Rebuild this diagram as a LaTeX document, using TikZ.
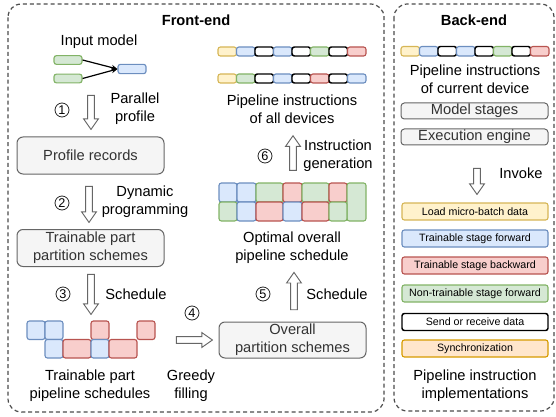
\documentclass[tikz,border=0pt]{standalone}
\usepackage{fontspec}
\setmainfont{Liberation Sans}
\usetikzlibrary{shapes.arrows,arrows.meta}

\definecolor{ldfill}{HTML}{FFF2CC}
\definecolor{lddraw}{HTML}{D6B656}
\definecolor{fwfill}{HTML}{DAE8FC}
\definecolor{fwdraw}{HTML}{6C8EBF}
\definecolor{bwfill}{HTML}{F8CECC}
\definecolor{bwdraw}{HTML}{B85450}
\definecolor{ntfill}{HTML}{D5E8D4}
\definecolor{ntdraw}{HTML}{82B366}
\definecolor{syfill}{HTML}{FFE6CC}
\definecolor{sydraw}{HTML}{D79B00}
\definecolor{boxfill}{HTML}{F5F5F5}
\definecolor{boxdraw}{HTML}{666666}
\definecolor{boxtext}{HTML}{333333}

\begin{document}
\begin{tikzpicture}[x=0.75pt,y=-0.75pt,
	font=\fontsize{11}{13.5}\selectfont,
	ld/.style={fill=ldfill,draw=lddraw,line width=0.85pt,rounded corners=1.8pt},
	fw/.style={fill=fwfill,draw=fwdraw,line width=0.85pt,rounded corners=1.8pt},
	bw/.style={fill=bwfill,draw=bwdraw,line width=0.85pt,rounded corners=1.8pt},
	nt/.style={fill=ntfill,draw=ntdraw,line width=0.85pt,rounded corners=1.8pt},
	sr/.style={fill=white,draw=black,line width=1.1pt,rounded corners=1.8pt},
	syncbox/.style={fill=syfill,draw=sydraw,line width=0.85pt,rounded corners=1.8pt},
	graybox/.style={fill=boxfill,draw=boxdraw,line width=0.75pt,rounded corners=4.5pt,text=boxtext,
		align=center,inner sep=0pt,minimum width=110.25pt,minimum height=27.75pt},
	thinbox/.style={graybox,rounded corners=2.5pt,minimum height=12pt},
	legend/.style={rounded corners=2pt,inner sep=0pt,minimum width=109.5pt,minimum height=12.75pt,
		font=\fontsize{8}{9}\selectfont},
	hollow/.style={single arrow,draw=boxdraw,fill=white,line width=0.7pt,inner sep=2.2pt,
		single arrow head extend=3pt,single arrow tip angle=70},
	stepnum/.style={circle,draw=black!85,line width=0.6pt,inner sep=0pt,minimum size=10.5pt,
		font=\fontsize{9.5}{9.5}\selectfont},
	frame/.style={draw=black!70,line width=0.9pt,dash pattern=on 3pt off 2.2pt,rounded corners=10pt}]

	\useasboundingbox (0,0) rectangle (556,417);

	% the two parts
	\draw[frame] (8,4) rectangle (384,412);
	\draw[frame] (394,4) rectangle (554,411);
	\node[font=\fontsize{11}{13.5}\selectfont\bfseries] (front) at (196,20) {Front-end};
	\node[font=\fontsize{11}{13.5}\selectfont\bfseries] (back) at (474,20) {Back-end};

	% input model
	\node[] (inmodel) at (99,42) {Input model};
	\node[nt,minimum width=21pt,minimum height=6.5pt,inner sep=0pt] (g1) at (68,60) {};
	\node[nt,minimum width=21pt,minimum height=6.5pt,inner sep=0pt] (g2) at (68,78.5) {};
	\node[fw,minimum width=21pt,minimum height=7pt,inner sep=0pt] (b1) at (132,69) {};
	\draw[-{Stealth[length=4.5pt,width=4pt]},line width=0.9pt] (g1.east) -- (b1.west);
	\draw[-{Stealth[length=4.5pt,width=4pt]},line width=0.9pt] (g2.east) -- (b1.west);

	% left column
	\node[hollow,rotate=-90,minimum height=25.5pt] (arr1) at (91,110) {};
	\node[stepnum] (c1) at (62,110) {1};
	\node[align=center] (lab1) at (135,109) {Parallel\\profile};
	\node[graybox] (profile) at (90.5,155.5) {Profile records};

	\node[hollow,rotate=-90,minimum height=27pt] (arr2) at (89,202) {};
	\node[stepnum] (c2) at (62,203) {2};
	\node[align=center] (lab2) at (145,202) {Dynamic\\programming};
	\node[graybox] (tpart) at (90.5,248) {Trainable part\\partition schemes};

	\node[hollow,rotate=-90,minimum height=30pt] (arr3) at (91,292) {};
	\node[stepnum] (c3) at (63,294) {3};
	\node[] (lab3) at (136,294) {Schedule};

	\filldraw[fw] (27,321) rectangle (45,339.5);
	\filldraw[fw] (45,321) rectangle (63,339.5);
	\filldraw[bw] (91,321) rectangle (109,339.5);
	\filldraw[bw] (137,321) rectangle (155,339.5);
	\filldraw[fw] (45,339.5) rectangle (63,358);
	\filldraw[bw] (63,339.5) rectangle (91,358);
	\filldraw[fw] (91,339.5) rectangle (109,358);
	\filldraw[bw] (109,339.5) rectangle (137,358);
	\node[align=center] (trtext) at (90,385.5) {Trainable part\\pipeline schedules};

	% greedy filling
	\node[hollow,minimum height=27pt] (arr4) at (192,340) {};
	\node[stepnum] (c4) at (192,313) {4};
	\node[align=center] (greedy) at (191,386) {Greedy\\filling};

	% right column
	\node[graybox,minimum height=27pt] (overall) at (292.5,340) {Overall\\partition schemes};
	\node[hollow,rotate=90,minimum height=28pt] (arr5) at (294,293.5) {};
	\node[stepnum] (c5) at (263,294) {5};
	\node[] (lab5) at (337,294) {Schedule};

	\filldraw[fw] (219,183) rectangle (237,202);
	\filldraw[fw] (237,183) rectangle (256,202);
	\filldraw[nt] (256,183) rectangle (283,202);
	\filldraw[bw] (283,183) rectangle (302,202);
	\filldraw[nt] (302,183) rectangle (329,202);
	\filldraw[bw] (329,183) rectangle (347,202);
	\filldraw[nt] (347,183) rectangle (366,221);
	\filldraw[nt] (219,202) rectangle (237,221);
	\filldraw[fw] (237,202) rectangle (256,221);
	\filldraw[bw] (256,202) rectangle (283,221);
	\filldraw[fw] (283,202) rectangle (302,221);
	\filldraw[bw] (302,202) rectangle (329,221);
	\filldraw[nt] (329,202) rectangle (347,221);
	\node[align=center] (optext) at (292,248) {Optimal overall\\pipeline schedule};

	\node[hollow,rotate=90,minimum height=26pt] (arr6) at (293,155.5) {};
	\node[stepnum] (c6) at (265,156) {6};
	\node[align=center] (lab6) at (338,156) {Instruction\\generation};

	\foreach \c [count=\i from 0] in {ld,fw,sr,fw,sr,nt,sr,bw}
		\filldraw[\c] (218+18.5*\i,47) rectangle ++(18.5,9);
	\foreach \c [count=\i from 0] in {ld,nt,sr,fw,sr,bw,sr,fw}
		\filldraw[\c] (218+18.5*\i,74) rectangle ++(18.5,9);
	\node[align=center] (alltext) at (292,109) {Pipeline instructions\\of all devices};

	% back-end
	\foreach \c [count=\i from 0] in {ld,fw,sr,fw,sr,nt,sr,bw}
		\filldraw[\c] (401+18.5*\i,46.5) rectangle ++(18.5,9.5);
	\node[align=center] (curtext) at (475,79) {Pipeline instructions\\of current device};
	\node[thinbox] (stages) at (474.5,111) {Model stages};
	\node[thinbox] (engine) at (474.5,137) {Execution engine};

	\node[hollow,rotate=-90,minimum height=19.5pt] (arrinv) at (477,179) {};
	\node[] (labinv) at (521,173) {Invoke};

	\node[legend,ld] (leg1) at (475,211.5) {Load micro-batch data};
	\node[legend,fw] (leg2) at (475,238.5) {Trainable stage forward};
	\node[legend,bw] (leg3) at (475,265.5) {Trainable stage backward};
	\node[legend,nt] (leg4) at (475,293.5) {Non-trainable stage forward};
	\node[legend,sr] (leg5) at (475,322) {Send or receive data};
	\node[legend,syncbox] (leg6) at (475,348.5) {Synchronization};
	\node[align=center] (impltext) at (475,386) {Pipeline instruction\\implementations};

\end{tikzpicture}
\end{document}
